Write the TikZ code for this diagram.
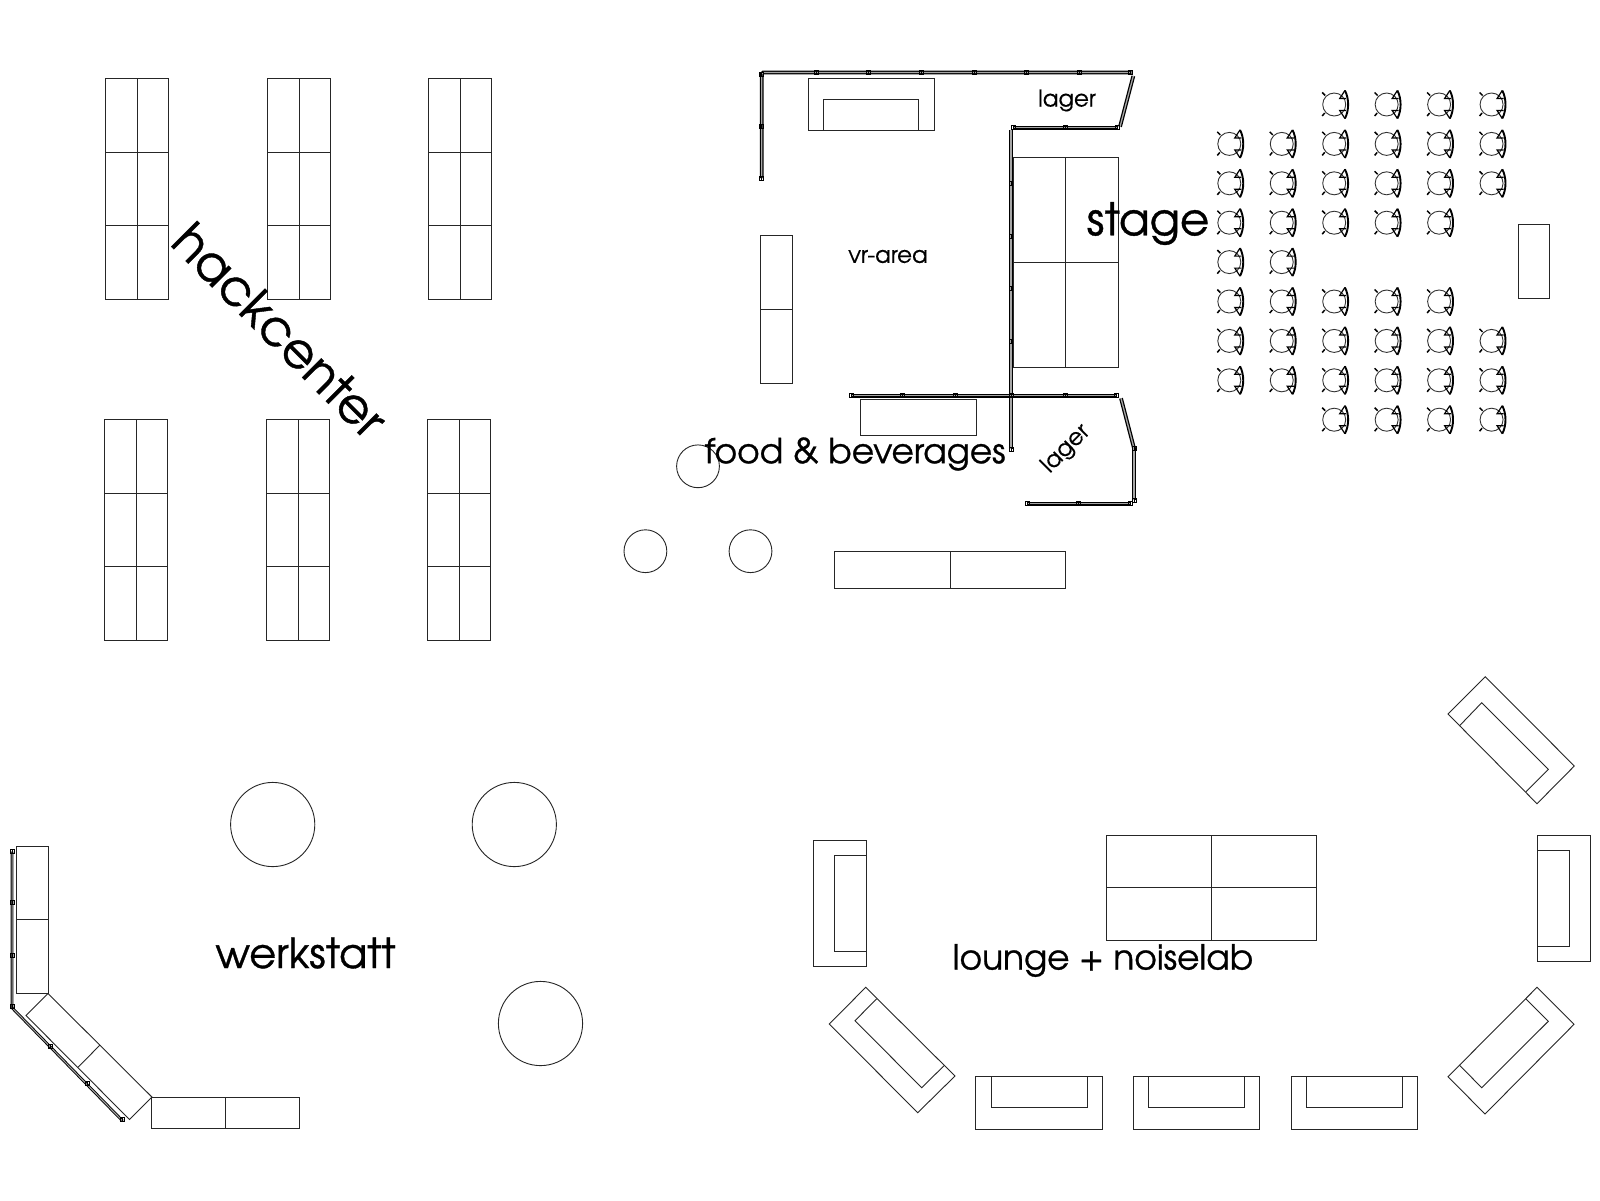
\documentclass[tikz,border=0pt]{standalone}
\usepackage{fontspec}
\setmainfont{TeX Gyre Adventor}
\newfontfamily\heavyface[FakeBold=0.8]{TeX Gyre Adventor}
\newfontfamily\lightface[FakeBold=0.3]{TeX Gyre Adventor}
\tikzset{
  plan/.style={line width=0.9pt,draw=black!85},
  wallline/.style={double=black!35,draw=black,line width=1.25pt,double distance=1.3pt},
  label/.style={inner sep=0pt,text=black},
  hacklabel/.style={label,font=\heavyface\fontsize{49.5}{49.5}\selectfont},
  stagelabel/.style={label,font=\heavyface\fontsize{45}{45}\selectfont},
  werklabel/.style={label,font=\heavyface\fontsize{41.5}{41.5}\selectfont},
  midlabel/.style={label,font=\heavyface\fontsize{34.4}{34.4}\selectfont},
  smalllabel/.style={label,font=\lightface\fontsize{23}{23}\selectfont}
}
\newcommand{\hackrow}[7]{%
  \draw[plan] (#1,#4) rectangle (#3,#7);
  \draw[plan] (#2,#4) -- (#2,#7);
  \draw[plan] (#1,#5) -- (#3,#5);
  \draw[plan] (#1,#6) -- (#3,#6);
}
\newcommand{\jointmark}[2]{%
  \draw[line width=0.7pt,draw=black] (#1-2,#2-2) rectangle (#1+2,#2+2);
  \draw[line width=0.7pt,draw=black] (#1,#2-2) -- (#1,#2+2);
}
\newcommand{\seat}[2]{%
  \begin{scope}[shift={(#1,#2)}]
    \draw[line width=0.9pt,draw=black!80] (0,0) circle (11.5);
    \draw[line width=1.5pt,black] (-12,-12) -- (-9,-9);
    \draw[line width=1.5pt,black] (-12,11.5) -- (-9.5,8.5);
    \draw[line width=1.9pt,black] (10.7,-14) .. controls (15,-6) and (15,6) .. (10.7,14);
    \draw[line width=1.2pt,black] (10.7,-14) -- (5.5,-6) -- (12,-6);
    \draw[line width=1.2pt,black] (10.7,14) -- (5.5,6) -- (12,6);
  \end{scope}
}
\begin{document}
\begin{tikzpicture}[x=1pt,y=-1pt]
\useasboundingbox (0,0) rectangle (1600,1200);
\fill[white] (0,0) rectangle (1600,1200);
% hackcenter tables
\hackrow{105.1}{137.8}{168.7}{78.6}{152}{225.5}{299}
\hackrow{267.5}{299}{330.4}{78.6}{152}{225.5}{299}
\hackrow{428.6}{460.2}{491.7}{78.6}{152}{225.5}{299}
\hackrow{104}{136}{167.4}{419.4}{493}{566.3}{640.8}
\hackrow{266.2}{298}{329.5}{419.4}{493}{566.3}{640.8}
\hackrow{427.6}{459}{490.8}{419.4}{493}{566.3}{640.8}
% walls upper area
\draw[wallline] (761.7,178) -- (761.7,74) -- (763.3,72.5) -- (1131.7,72.5);
\draw[wallline] (1133.3,76) -- (1120,126.7);
\draw[wallline] (1117.7,127.7) -- (1013.3,127.7);
\draw[wallline] (1011,130) -- (1011,449.3);
\draw[wallline] (851.7,395.7) -- (1116.7,395.7);
\draw[wallline] (1121,398.3) -- (1134,448.3);
\draw[wallline] (1134,448.3) -- (1134,500);
\draw[wallline] (1130.7,503.7) -- (1027.7,503.7);
\foreach \px in {816.7,868.3,921.7,974,1026,1079,1130} {\jointmark{\px}{72.5}}
\foreach \py in {74,126.7,178} {\jointmark{761.7}{\py}}
\foreach \px in {1013.3,1065,1117.7} {\jointmark{\px}{127.7}}
\foreach \py in {183.3,236,288,341,449.3} {\jointmark{1011}{\py}}
\foreach \px in {851.7,902.3,955.7,1011,1065.7,1116.7} {\jointmark{\px}{395.7}}
\foreach \py in {448.3,500} {\jointmark{1134}{\py}}
\foreach \px in {1027.7,1078.3,1130.7} {\jointmark{\px}{503.7}}
% booth, stage, vr etc
\draw[plan] (808,130.9) rectangle (934.3,78.3);
\draw[plan] (823.9,130.9) -- (823.9,99.3) -- (918.3,99.3) -- (918.3,130.9);
\draw[plan] (1013.3,157) rectangle (1118.3,367.3);
\draw[plan] (1065.3,157) -- (1065.3,367.3);
\draw[plan] (1013.3,262) -- (1118.3,262);
\draw[plan] (860.7,399) rectangle (976,435.3);
\draw[plan] (760.2,235.7) rectangle (792.3,383);
\draw[plan] (760.2,309.2) -- (792.3,309.2);
\draw[plan] (1518.4,224.5) rectangle (1549,298);
\draw[plan] (698,466.3) circle (21.4);
\draw[plan] (645.4,551.2) circle (21.4);
\draw[plan] (750.5,551.2) circle (21.4);
\draw[plan] (834.3,551) rectangle (1065.3,588.2);
\draw[plan] (950,551) -- (950,588.2);
% chairs
\foreach \cx in {2,3,4,5} {\seat{1229.3+52.45*\cx}{104.5}}
\foreach \cx in {0,...,5} {\seat{1229.3+52.45*\cx}{143.9}}
\foreach \cx in {0,...,5} {\seat{1229.3+52.45*\cx}{183.3}}
\foreach \cx in {0,...,4} {\seat{1229.3+52.45*\cx}{222.7}}
\foreach \cx in {0,1} {\seat{1229.3+52.45*\cx}{262.1}}
\foreach \cx in {0,...,4} {\seat{1229.3+52.45*\cx}{301.5}}
\foreach \cx in {0,...,5} {\seat{1229.3+52.45*\cx}{340.9}}
\foreach \cx in {0,...,5} {\seat{1229.3+52.45*\cx}{380.3}}
\foreach \cx in {2,3,4,5} {\seat{1229.3+52.45*\cx}{419.7}}
% werkstatt
\draw[plan] (272.7,824.5) circle (42.1);
\draw[plan] (514.3,824.5) circle (42.1);
\draw[plan] (540.5,1023.5) circle (42.1);
\draw[plan] (16.3,846.1) rectangle (48,993.5);
\draw[plan] (16.3,919.3) -- (48,919.3);
\draw[plan] (48,993.5) -- (151.9,1097) -- (129.5,1119.5) -- (26,1015.5) -- cycle;
\draw[plan] (100,1045) -- (78,1067.3);
\draw[plan] (151.9,1097) rectangle (299,1128.6);
\draw[plan] (225.3,1097) -- (225.3,1128.6);
\draw[wallline,line width=0.9pt,double distance=1pt] (12,851.7) -- (12,1007.7) -- (122.7,1121);
\foreach \py in {851.7,902.7,955,1006.7} {\jointmark{12}{\py}}
\jointmark{50}{1046}
\jointmark{87.3}{1083.3}
\jointmark{122.7}{1119.3}
% lounge
\draw[plan] (1106,835.7) rectangle (1316.3,940.2);
\draw[plan] (1211.2,835.7) -- (1211.2,940.2);
\draw[plan] (1106,887.8) -- (1316.3,887.8);
\draw[plan] (813.3,840.2) rectangle (866.3,966.6);
\draw[plan] (866.3,855.2) -- (834,855.2) -- (834,951.2) -- (866.3,951.2);
\draw[plan] (1537.8,835) rectangle (1590.8,961.2);
\draw[plan] (1537.8,850) -- (1569.4,850) -- (1569.4,946) -- (1537.8,946);
\draw[plan] (975.8,1076.1) rectangle (1102,1129);
\draw[plan] (991.2,1076.1) -- (991.2,1107.3) -- (1087,1107.3) -- (1087,1076.1);
\draw[plan] (1133.3,1076.1) rectangle (1259.7,1129);
\draw[plan] (1148.8,1076.1) -- (1148.8,1107.3) -- (1244.5,1107.3) -- (1244.5,1076.1);
\draw[plan] (1291,1076.1) rectangle (1417.5,1129);
\draw[plan] (1306.5,1076.1) -- (1306.5,1107.3) -- (1402.5,1107.3) -- (1402.5,1076.1);
\draw[plan] (865.7,987.3) -- (829.3,1024) -- (917.7,1112.7) -- (955,1076) -- cycle;
\draw[plan] (876.7,998.7) -- (855,1020.7) -- (921.7,1087.7) -- (944,1065.7);
\draw[plan] (1537,987.3) -- (1574,1024.3) -- (1485,1114) -- (1448,1076.7) -- cycle;
\draw[plan] (1525.7,998.7) -- (1548.3,1021.3) -- (1481.7,1087.7) -- (1459.3,1065);
\draw[plan] (1485.3,676.7) -- (1574.3,766) -- (1537,803.7) -- (1448,714) -- cycle;
\draw[plan] (1459.3,726) -- (1481.7,702.7) -- (1548.3,769.3) -- (1526,791.7);
% labels
\node[hacklabel,rotate=-45] (hack) at (280,330) {hackcenter};
\node[stagelabel] (stage) at (1148,223.5) {stage};
\node[midlabel] (food) at (855,454) {food \& beverages};
\node[werklabel] (werk) at (305.5,953) {werkstatt};
\node[midlabel] (lounge) at (1103,960.5) {lounge + noiselab};
\node[smalllabel] (lager1) at (1067,100.5) {lager};
\node[smalllabel] (vr) at (888,256.5) {vr-area};
\node[smalllabel,rotate=45] (lager2) at (1066,449) {lager};
\end{tikzpicture}
\end{document}
